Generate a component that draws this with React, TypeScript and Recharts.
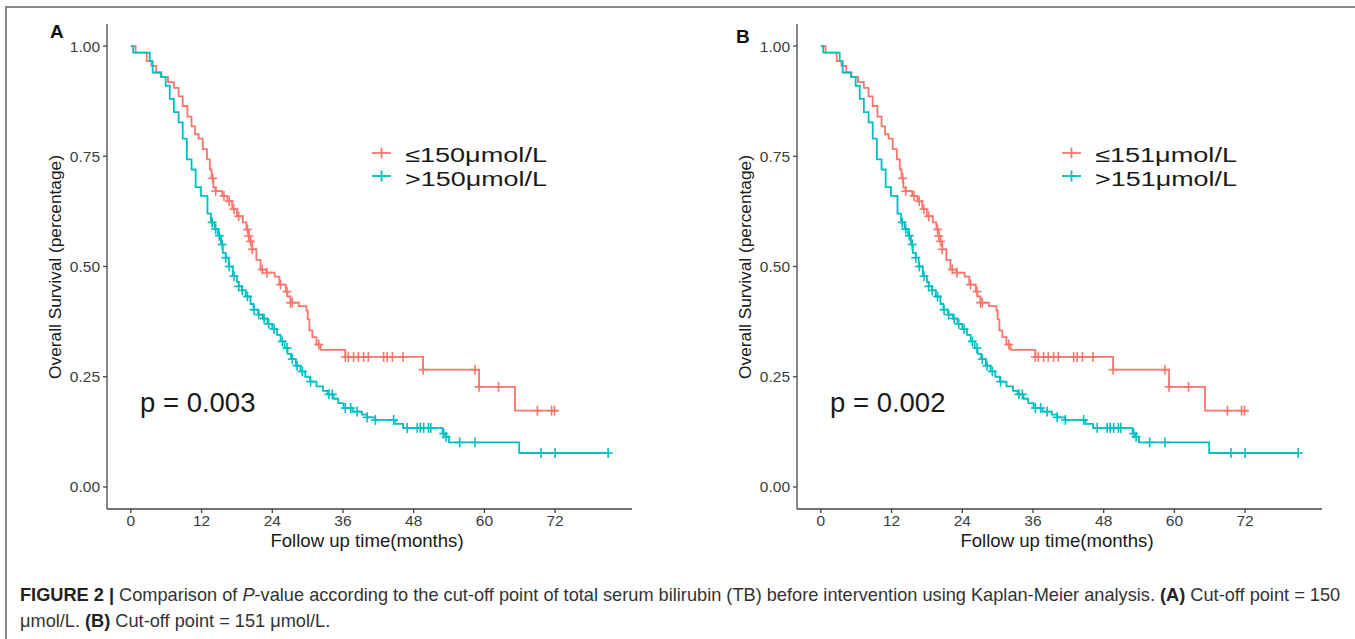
import React from 'react';
import { ComposedChart, Line, Scatter, XAxis, YAxis } from 'recharts';

const RED = '#F8766D';
const CYAN = '#00BFC4';
const FONT = '"Liberation Sans", Arial, Helvetica, sans-serif';

const xTicks = [0, 12, 24, 36, 48, 60, 72];
const yTicks = [0, 0.25, 0.5, 0.75, 1];

// Panel A: [time (months), survival] step points
const redStepsA: [number, number][] = [
  [0, 1], [0.8, 0.985], [2.7, 0.966], [3.5, 0.955], [4.3, 0.94], [5.2, 0.93], [6.3, 0.918], [7.3, 0.905],
  [8.1, 0.886], [8.8, 0.864], [9.6, 0.84], [10.3, 0.818], [10.9, 0.8], [11.5, 0.79], [12.2, 0.766], [12.9, 0.743],
  [13.4, 0.72], [13.7, 0.7], [14.0, 0.679], [14.4, 0.671], [15.5, 0.66], [16.4, 0.648], [17.2, 0.63], [18.0, 0.614],
  [19.0, 0.6], [19.6, 0.584], [20.0, 0.569], [20.3, 0.557], [20.6, 0.539], [21.3, 0.515], [22.0, 0.493], [23.0, 0.486],
  [24.4, 0.477], [25.2, 0.459], [26.3, 0.443], [26.6, 0.432], [27.1, 0.418], [28.5, 0.41], [29.8, 0.4], [30.0, 0.38],
  [30.3, 0.355], [30.8, 0.34], [31.5, 0.323], [32.2, 0.311], [36.4, 0.295], [49.6, 0.266], [59.1, 0.227], [65.2, 0.173],
  [72.5, 0.173],
];
const cyanStepsA: [number, number][] = [
  [0, 1], [0.4, 0.985], [3.2, 0.966], [3.7, 0.94], [5.1, 0.93], [5.9, 0.91], [6.6, 0.88], [7.3, 0.85], [8.1, 0.827],
  [8.8, 0.79], [9.5, 0.743], [10.3, 0.72], [11.0, 0.68], [11.9, 0.66], [13.0, 0.62], [13.6, 0.6], [14.2, 0.585],
  [14.8, 0.57], [15.3, 0.55], [15.6, 0.531], [16.1, 0.52], [16.6, 0.5], [17.3, 0.478], [18.0, 0.465], [18.3, 0.455],
  [18.9, 0.446], [19.5, 0.432], [20.3, 0.415], [20.8, 0.402], [21.6, 0.391], [22.4, 0.382], [23.2, 0.37], [24.0, 0.358],
  [24.8, 0.345], [25.4, 0.33], [26.1, 0.315], [26.6, 0.302], [27.2, 0.29], [28.0, 0.275], [28.8, 0.262], [29.6, 0.25],
  [30.4, 0.239], [31.5, 0.228], [32.6, 0.218], [33.4, 0.21], [34.4, 0.2], [35.2, 0.19], [36.1, 0.179], [37.6, 0.171],
  [39.2, 0.164], [40.1, 0.158], [41.4, 0.152], [44.9, 0.143], [46.2, 0.134], [52.9, 0.121], [53.4, 0.114], [54.0, 0.101],
  [65.9, 0.077], [81.0, 0.077],
];
const redCensorA = [
  13.9, 14.4, 15.8, 16.7, 17.5, 18.3, 19.8, 20.0, 20.3, 20.6, 22.3, 23.1, 25.4, 26.5, 27.1, 27.4, 31.9, 36.4, 36.9,
  37.8, 38.6, 39.5, 40.3, 42.9, 43.5, 44.4, 46.2, 49.6, 58.4, 59.1, 62.4, 69.0, 71.4, 71.9,
];
const cyanCensorA = [
  13.8, 14.4, 15.0, 15.5, 16.1, 16.7, 17.5, 18.3, 18.9, 19.8, 20.9, 21.7, 22.6, 23.4, 24.3, 25.7, 26.5, 27.4, 28.2,
  29.1, 30.5, 33.6, 34.2, 36.4, 37.3, 38.4, 40.1, 41.5, 44.6, 46.9, 48.6, 49.1, 49.7, 50.5, 50.9, 53.1, 53.5, 55.8,
  58.4, 69.6, 72.0, 81.0,
];

// Panel B (near-identical to A)
const redStepsB: [number, number][] = redStepsA.map(([t, s]) => [t, s]);
const cyanStepsB: [number, number][] = cyanStepsA.map(([t, s]) => [t, s]);
const redCensorB = redCensorA.slice();
const cyanCensorB = cyanCensorA.slice();

const legendA = ['≤150μmol/L', '>150μmol/L'];
const legendB = ['≤151μmol/L', '>151μmol/L'];
const pA = 'p = 0.003';
const pB = 'p = 0.002';

function survAt(steps: [number, number][], t: number) {
  let s = steps[0][1];
  for (const [tt, ss] of steps) {
    if (tt <= t + 1e-9) s = ss;
    else break;
  }
  return s;
}

const toRows = (steps: [number, number][]) => steps.map(([t, s]) => ({ t, s }));
const censorRows = (steps: [number, number][], times: number[]) => times.map((t) => ({ t, s: survAt(steps, t) }));

const plusShape = (color: string) => (props: any) => {
  const { cx, cy } = props;
  if (cx == null || cy == null) return <g />;
  return (
    <g stroke={color} strokeWidth={1.6}>
      <line x1={cx - 4.5} x2={cx + 4.5} y1={cy} y2={cy} />
      <line x1={cx} x2={cx} y1={cy - 5} y2={cy + 5} />
    </g>
  );
};

const axisStroke = '#444';
const tickStyle = { fill: '#3d3d3d', fontSize: 15.5, fontFamily: FONT };

function Panel(props: {
  left: number;
  redSteps: [number, number][];
  cyanSteps: [number, number][];
  redCensor: number[];
  cyanCensor: number[];
}) {
  const { left, redSteps, cyanSteps, redCensor, cyanCensor } = props;
  return (
    <div style={{ position: 'absolute', left, top: 0, width: 680, height: 560 }}>
      <ComposedChart width={680} height={560} margin={{ top: 24, right: 48, bottom: 21, left: 0 }}>
        <XAxis
          dataKey="t"
          type="number"
          domain={[-4.05, 85.05]}
          ticks={xTicks}
          tick={tickStyle}
          tickSize={4}
          tickMargin={2}
          height={30}
          stroke={axisStroke}
          strokeWidth={1.3}
          allowDataOverflow
        />
        <YAxis
          type="number"
          domain={[-0.05, 1.05]}
          ticks={yTicks}
          tick={tickStyle}
          tickFormatter={(v: number) => v.toFixed(2)}
          tickSize={4}
          tickMargin={3}
          width={107}
          stroke={axisStroke}
          strokeWidth={1.3}
          allowDataOverflow
        />
        <Line
          data={toRows(redSteps)}
          dataKey="s"
          type="stepAfter"
          stroke={RED}
          strokeWidth={1.8}
          dot={false}
          activeDot={false}
          isAnimationActive={false}
        />
        <Line
          data={toRows(cyanSteps)}
          dataKey="s"
          type="stepAfter"
          stroke={CYAN}
          strokeWidth={1.8}
          dot={false}
          activeDot={false}
          isAnimationActive={false}
        />
        <Scatter
          data={censorRows(redSteps, redCensor)}
          dataKey="s"
          shape={plusShape(RED)}
          isAnimationActive={false}
        />
        <Scatter
          data={censorRows(cyanSteps, cyanCensor)}
          dataKey="s"
          shape={plusShape(CYAN)}
          isAnimationActive={false}
        />
      </ComposedChart>
    </div>
  );
}

function Overlay() {
  const panels = [
    { dx: 0, letter: 'A', lx: 50, ly: 38, legend: legendA, p: pA },
    { dx: 690, letter: 'B', lx: 46, ly: 43, legend: legendB, p: pB },
  ];
  return (
    <svg
      width={1355}
      height={639}
      style={{ position: 'absolute', left: 0, top: 0, pointerEvents: 'none' }}
      fontFamily={FONT}
    >
      <line x1={6} y1={7} x2={1355} y2={7} stroke="#8a8a8a" strokeWidth={2} />
      <line x1={6} y1={6} x2={6} y2={639} stroke="#8a8a8a" strokeWidth={2} />
      {panels.map((p) => (
        <g key={p.letter} transform={`translate(${p.dx},0)`}>
          <text x={p.lx} y={p.ly} fontSize={19} fontWeight="bold" fill="#111">
            {p.letter}
          </text>
          <g stroke={RED} strokeWidth={1.8}>
            <line x1={372} x2={391} y1={153} y2={153} />
            <line x1={381.5} x2={381.5} y1={147.5} y2={158.5} />
          </g>
          <g stroke={CYAN} strokeWidth={1.8}>
            <line x1={372} x2={391} y1={176} y2={176} />
            <line x1={381.5} x2={381.5} y1={170.5} y2={181.5} />
          </g>
          <text x={405} y={162} fontSize={20} fill="#1a1a1a" textLength={142} lengthAdjust="spacingAndGlyphs">
            {p.legend[0]}
          </text>
          <text x={405} y={185.5} fontSize={20} fill="#1a1a1a" textLength={142} lengthAdjust="spacingAndGlyphs">
            {p.legend[1]}
          </text>
          <text x={140} y={412} fontSize={27.5} fill="#1a1a1a">{p.p}</text>
          <text x={367} y={547} fontSize={18.6} fill="#1a1a1a" textAnchor="middle">Follow up time(months)</text>
          <text
            x={0}
            y={0}
            fontSize={17.3}
            fill="#1a1a1a"
            textAnchor="middle"
            transform="translate(61,267) rotate(-90)"
          >
            Overall Survival (percentage)
          </text>
        </g>
      ))}
      <text x={20} y={601} fontSize={18.2} fill="#333">
        <tspan fontWeight="bold" fill="#222">FIGURE 2 |</tspan>
        <tspan> Comparison of </tspan>
        <tspan fontStyle="italic">P</tspan>
        <tspan>-value according to the cut-off point of total serum bilirubin (TB) before intervention using Kaplan-Meier analysis. </tspan>
        <tspan fontWeight="bold" fill="#222">(A)</tspan>
        <tspan> Cut-off point = 150</tspan>
      </text>
      <text x={20} y={627} fontSize={18.2} fill="#333">
        <tspan>μmol/L. </tspan>
        <tspan fontWeight="bold" fill="#222">(B)</tspan>
        <tspan> Cut-off point = 151 μmol/L.</tspan>
      </text>
    </svg>
  );
}

export default function App() {
  return (
    <div style={{ position: 'absolute', left: 0, top: 0, width: 1355, height: 639, background: '#fff', fontFamily: FONT }}>
      <Panel left={0} redSteps={redStepsA} cyanSteps={cyanStepsA} redCensor={redCensorA} cyanCensor={cyanCensorA} />
      <Panel left={690} redSteps={redStepsB} cyanSteps={cyanStepsB} redCensor={redCensorB} cyanCensor={cyanCensorB} />
      <Overlay />
    </div>
  );
}
